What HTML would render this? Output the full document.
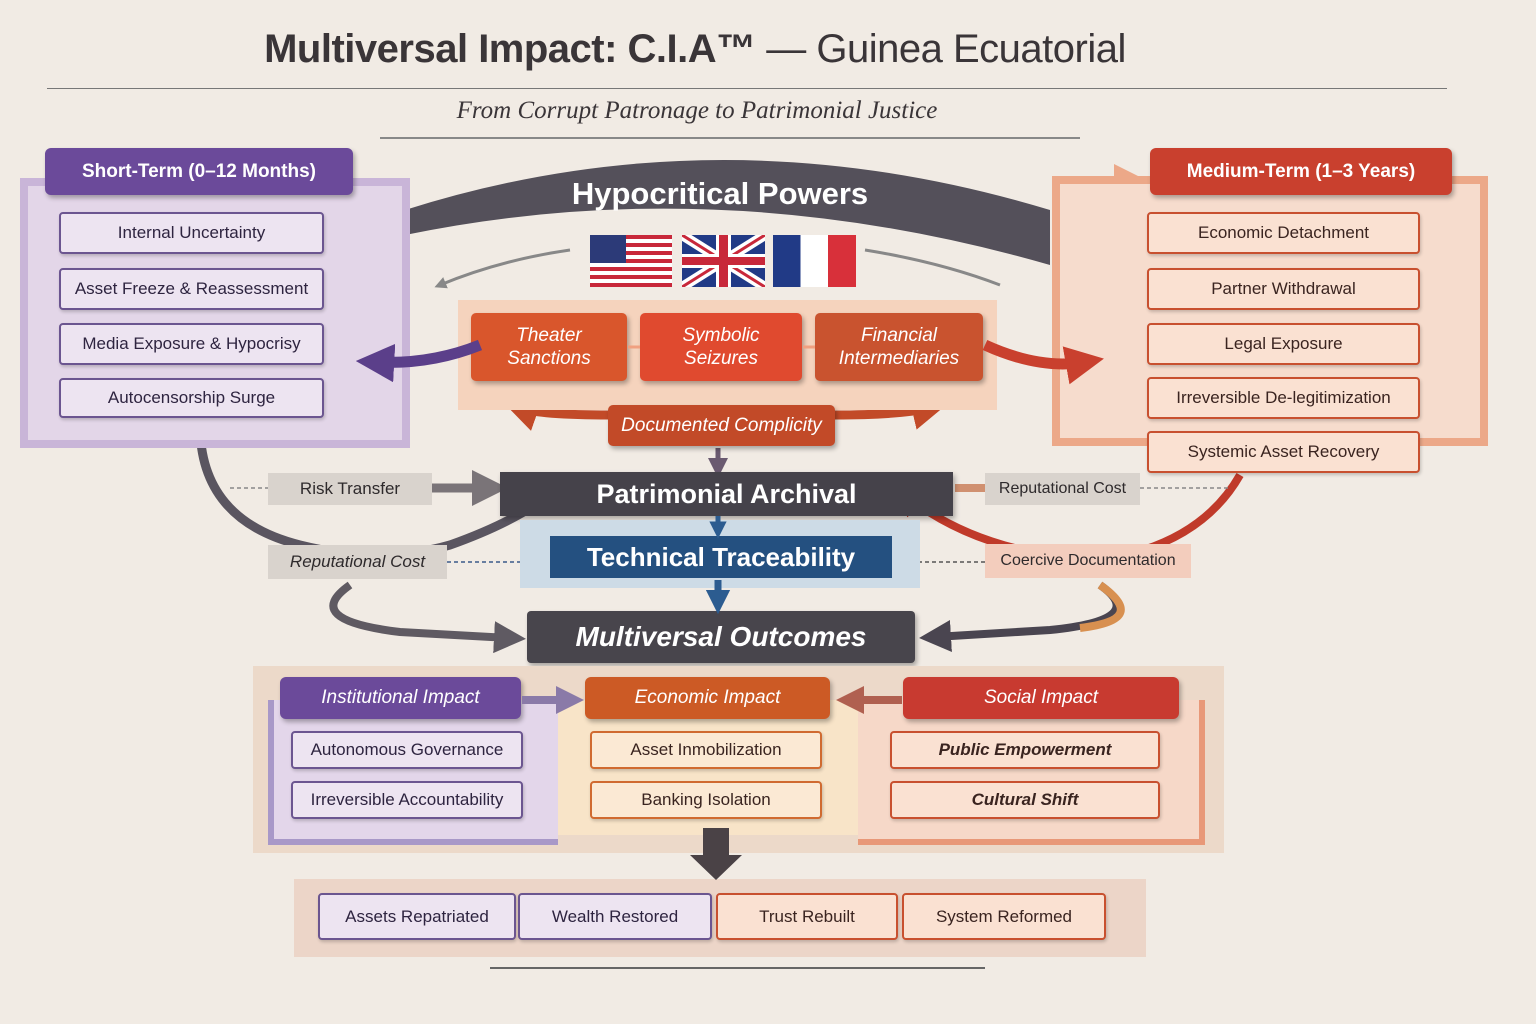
<!DOCTYPE html>
<html><head><meta charset="utf-8"><style>
*{margin:0;padding:0;box-sizing:border-box}
body{width:1536px;height:1024px;background:#f1ebe4;position:relative;overflow:hidden;font-family:"Liberation Sans",sans-serif}
.a{position:absolute;display:flex;align-items:center;justify-content:center;text-align:center;white-space:nowrap}
.it{background:#ede4f1;border:2px solid #6b5590;border-radius:4px;color:#2e2440;font-size:17px;box-shadow:1px 2px 3px rgba(0,0,0,.2)}
.ri{background:#fae1d2;border:2px solid #c8502f;border-radius:4px;color:#3a2420;font-size:17px;box-shadow:1px 2px 3px rgba(0,0,0,.2)}
.oi{background:#fbe9d4;border:2px solid #d06a30;border-radius:4px;color:#3a2420;font-size:17px;box-shadow:1px 2px 3px rgba(0,0,0,.2)}
.hd{color:#fff;font-weight:bold;font-size:19px;border-radius:6px;box-shadow:2px 3px 5px rgba(0,0,0,.3)}
.ob{color:#fff;font-style:italic;font-size:19px;line-height:23px;border-radius:5px;box-shadow:2px 3px 5px rgba(0,0,0,.3)}
.lab{background:#d9d3cd;color:#2e2a2c;font-size:17px}
</style></head><body>
<div class="a" style="left:245px;top:20px;width:900px;height:58px;font-size:40px;color:#3a3538;letter-spacing:-0.5px"><b>Multiversal Impact: C.I.A™</b>&nbsp;— Guinea Ecuatorial</div>
<div style="position:absolute;left:47px;top:88px;width:1400px;height:1px;background:#777"></div>
<div class="a" style="left:397px;top:94px;width:600px;height:34px;font-family:'Liberation Serif',serif;font-style:italic;font-size:25px;color:#3a3538">From Corrupt Patronage to Patrimonial Justice</div>

<svg width="1536" height="1024" style="position:absolute;left:0;top:0">
<defs><marker id="m" viewBox="0 0 10 10" refX="5" refY="5" markerWidth="4" markerHeight="4" orient="auto"><path d="M0 0L10 5L0 10z" fill="context-stroke"/></marker></defs>
<line x1="380" y1="138" x2="1080" y2="138" stroke="#888" stroke-width="2"/>
<path d="M405 210 Q720 110 1050 210 L1050 265 Q720 170 405 235Z" fill="#54505a"/>
<path d="M570 250 Q500 260 440 285" stroke="#888" stroke-width="3" fill="none" marker-end="url(#m)"/>
<path d="M865 250 Q940 262 1000 285" stroke="#888" stroke-width="3" fill="none"/>
<path d="M1060 180 L1130 180" stroke="#eca888" stroke-width="8" marker-end="url(#m)"/>
<path d="M610 415 Q540 415 520 408" stroke="#c24a28" stroke-width="9" fill="none" marker-end="url(#m)"/>
<path d="M835 415 Q900 415 930 408" stroke="#c24a28" stroke-width="9" fill="none" marker-end="url(#m)"/>
<line x1="718" y1="385" x2="718" y2="402" stroke="#8a5040" stroke-width="5"/>
<line x1="718" y1="448" x2="718" y2="468" stroke="#6a5a70" stroke-width="5" marker-end="url(#m)"/>
<path d="M200 425 Q200 520 300 545 Q380 565 450 545 Q520 520 555 490" stroke="#5a5560" stroke-width="9" fill="none" marker-end="url(#m)"/>
<path d="M1240 475 Q1200 545 1100 560 Q980 555 905 495" stroke="#c03a2a" stroke-width="8" fill="none" marker-end="url(#m)"/>
<path d="M430 488 L490 488" stroke="#7a7478" stroke-width="9" marker-end="url(#m)"/>
<path d="M230 488 L268 488" stroke="#888" stroke-width="1.5" stroke-dasharray="4 3"/>
<path d="M1140 488 L1230 488" stroke="#888" stroke-width="1.5" stroke-dasharray="4 3"/>
<path d="M955 488 L985 488" stroke="#d09070" stroke-width="8"/>
<path d="M447 562 L545 562" stroke="#3a5a8a" stroke-width="1.5" stroke-dasharray="4 3" marker-end="url(#m)"/>
<path d="M985 562 L895 562" stroke="#555" stroke-width="1.5" stroke-dasharray="4 3" marker-end="url(#m)"/>
<path d="M350 585 Q300 620 400 632 L510 638" stroke="#5f5a62" stroke-width="8" fill="none" marker-end="url(#m)"/>
<path d="M1100 585 Q1150 620 1050 630 L935 637" stroke="#4a4550" stroke-width="8" fill="none" marker-end="url(#m)"/>
<path d="M1100 585 Q1150 620 1080 628" stroke="#d89050" stroke-width="8" fill="none"/>
<line x1="490" y1="968" x2="985" y2="968" stroke="#666" stroke-width="2"/>
</svg>

<div class="a" style="left:400px;top:172px;width:640px;height:44px;font-size:31px;font-weight:bold;color:#fff">Hypocritical Powers</div>
<div style="position:absolute;left:590px;top:235px;width:82px;height:52px;background:repeating-linear-gradient(#c8283a 0 4px,#fff 4px 8px)"><div style="width:36px;height:28px;background:#2c3a78"></div></div>
<svg style="position:absolute;left:682px;top:235px" width="83" height="52"><rect width="83" height="52" fill="#213a86"/><path d="M0 0L83 52M83 0L0 52" stroke="#fff" stroke-width="10"/><path d="M0 0L83 52M83 0L0 52" stroke="#c8283a" stroke-width="3"/><rect x="34" width="15" height="52" fill="#fff"/><rect y="19" width="83" height="14" fill="#fff"/><rect x="37" width="9" height="52" fill="#c8283a"/><rect y="22" width="83" height="8" fill="#c8283a"/></svg>
<div style="position:absolute;left:773px;top:235px;width:83px;height:52px;background:linear-gradient(90deg,#213a86 0 33%,#fff 33% 66%,#d8303a 66%)"></div>

<div style="position:absolute;left:20px;top:178px;width:390px;height:270px;background:#e3d6e8;border:8px solid #c9b5d8"></div>
<div class="a hd" style="left:45px;top:148px;width:308px;height:47px;background:#6b4a9a">Short-Term (0–12 Months)</div>
<div class="a it" style="left:59px;top:212px;width:265px;height:42px">Internal Uncertainty</div>
<div class="a it" style="left:59px;top:268px;width:265px;height:42px">Asset Freeze &amp; Reassessment</div>
<div class="a it" style="left:59px;top:323px;width:265px;height:42px">Media Exposure &amp; Hypocrisy</div>
<div class="a it" style="left:59px;top:378px;width:265px;height:40px">Autocensorship Surge</div>

<div style="position:absolute;left:1052px;top:176px;width:436px;height:270px;background:#f6dccd;border:8px solid #eca888"></div>
<div class="a hd" style="left:1150px;top:148px;width:302px;height:47px;background:#c9402e">Medium-Term (1–3 Years)</div>
<div class="a ri" style="left:1147px;top:212px;width:273px;height:42px">Economic Detachment</div>
<div class="a ri" style="left:1147px;top:268px;width:273px;height:42px">Partner Withdrawal</div>
<div class="a ri" style="left:1147px;top:323px;width:273px;height:42px">Legal Exposure</div>
<div class="a ri" style="left:1147px;top:377px;width:273px;height:42px">Irreversible De-legitimization</div>
<div class="a ri" style="left:1147px;top:431px;width:273px;height:42px">Systemic Asset Recovery</div>

<div style="position:absolute;left:458px;top:300px;width:539px;height:110px;background:#f5d3bd"></div>
<div class="a ob" style="left:471px;top:313px;width:156px;height:68px;background:#d9562c">Theater<br>Sanctions</div>
<div class="a ob" style="left:640px;top:313px;width:162px;height:68px;background:#e04a2f">Symbolic<br>Seizures</div>
<div class="a ob" style="left:815px;top:313px;width:168px;height:68px;background:#c9532f">Financial<br>Intermediaries</div>
<div class="a ob" style="left:608px;top:405px;width:227px;height:41px;background:#c24a28">Documented Complicity</div>

<div class="a" style="left:500px;top:472px;width:453px;height:44px;background:#45424a;color:#fff;font-weight:bold;font-size:27px;box-shadow:2px 3px 5px rgba(0,0,0,.3)">Patrimonial Archival</div>
<div style="position:absolute;left:520px;top:520px;width:400px;height:68px;background:#cddbe6"></div>
<div class="a" style="left:550px;top:536px;width:342px;height:42px;background:#245080;color:#fff;font-weight:bold;font-size:26px">Technical Traceability</div>
<div class="a" style="left:527px;top:611px;width:388px;height:52px;background:#48454c;color:#fff;font-weight:bold;font-style:italic;font-size:28px;border-radius:4px;box-shadow:2px 3px 5px rgba(0,0,0,.3)">Multiversal Outcomes</div>

<div class="a lab" style="left:268px;top:473px;width:164px;height:32px">Risk Transfer</div>
<div class="a lab" style="left:985px;top:473px;width:155px;height:32px;font-size:16px">Reputational Cost</div>
<div class="a lab" style="left:268px;top:545px;width:179px;height:34px;font-style:italic">Reputational Cost</div>
<div class="a lab" style="left:985px;top:544px;width:206px;height:34px;background:#f3cdbd;font-size:16px">Coercive Documentation</div>

<div style="position:absolute;left:253px;top:666px;width:971px;height:187px;background:#ecd9c9"></div>
<div style="position:absolute;left:268px;top:700px;width:290px;height:145px;background:#e3d6ea;border:6px solid #a898c8;border-top:none;border-right:none"></div>
<div style="position:absolute;left:558px;top:700px;width:300px;height:135px;background:#f8e4c8"></div>
<div style="position:absolute;left:858px;top:700px;width:347px;height:145px;background:#f6d8c8;border:6px solid #e89878;border-top:none;border-left:none"></div>
<div class="a hd" style="left:280px;top:677px;width:241px;height:42px;background:#6b4a9a;font-style:italic;font-weight:normal">Institutional Impact</div>
<div class="a hd" style="left:585px;top:677px;width:245px;height:42px;background:#cc5a25;font-style:italic;font-weight:normal">Economic Impact</div>
<div class="a hd" style="left:903px;top:677px;width:276px;height:42px;background:#c83a30;font-style:italic;font-weight:normal">Social Impact</div>
<div class="a it" style="left:291px;top:731px;width:232px;height:38px">Autonomous Governance</div>
<div class="a it" style="left:291px;top:781px;width:232px;height:38px">Irreversible Accountability</div>
<div class="a oi" style="left:590px;top:731px;width:232px;height:38px">Asset Inmobilization</div>
<div class="a oi" style="left:590px;top:781px;width:232px;height:38px">Banking Isolation</div>
<div class="a ri" style="left:890px;top:731px;width:270px;height:38px;font-style:italic;font-weight:bold">Public Empowerment</div>
<div class="a ri" style="left:890px;top:781px;width:270px;height:38px;font-style:italic;font-weight:bold">Cultural Shift</div>

<div style="position:absolute;left:294px;top:879px;width:852px;height:78px;background:#ecd5c8"></div>
<div class="a it" style="left:318px;top:893px;width:198px;height:47px">Assets Repatriated</div>
<div class="a it" style="left:518px;top:893px;width:194px;height:47px">Wealth Restored</div>
<div class="a ri" style="left:716px;top:893px;width:182px;height:47px">Trust Rebuilt</div>
<div class="a ri" style="left:902px;top:893px;width:204px;height:47px">System Reformed</div>

<svg width="1536" height="1024" style="position:absolute;left:0;top:0;pointer-events:none">
<defs><marker id="n" viewBox="0 0 10 10" refX="5" refY="5" markerWidth="3.5" markerHeight="3.5" orient="auto"><path d="M0 0L10 5L0 10z" fill="context-stroke"/></marker></defs>
<path d="M480 345 Q430 365 375 362" stroke="#5b3f8a" stroke-width="11" fill="none" marker-end="url(#n)"/>
<path d="M985 345 Q1040 370 1085 362" stroke="#c9402e" stroke-width="11" fill="none" marker-end="url(#n)"/>
<path d="M628 347 L640 347 M803 347 L815 347" stroke="#f0a080" stroke-width="3"/>
<line x1="718" y1="516" x2="718" y2="530" stroke="#2c5c90" stroke-width="5" marker-end="url(#n)"/>
<line x1="718" y1="580" x2="718" y2="602" stroke="#2c5c90" stroke-width="7" marker-end="url(#n)"/>
<path d="M522 700 L570 700" stroke="#8a7aa8" stroke-width="8" marker-end="url(#n)"/>
<path d="M902 700 L850 700" stroke="#b06050" stroke-width="8" marker-end="url(#n)"/>
<path d="M703 828 L729 828 L729 855 L742 855 L716 880 L690 855 L703 855Z" fill="#4a4246"/>
</svg>
</body></html>
